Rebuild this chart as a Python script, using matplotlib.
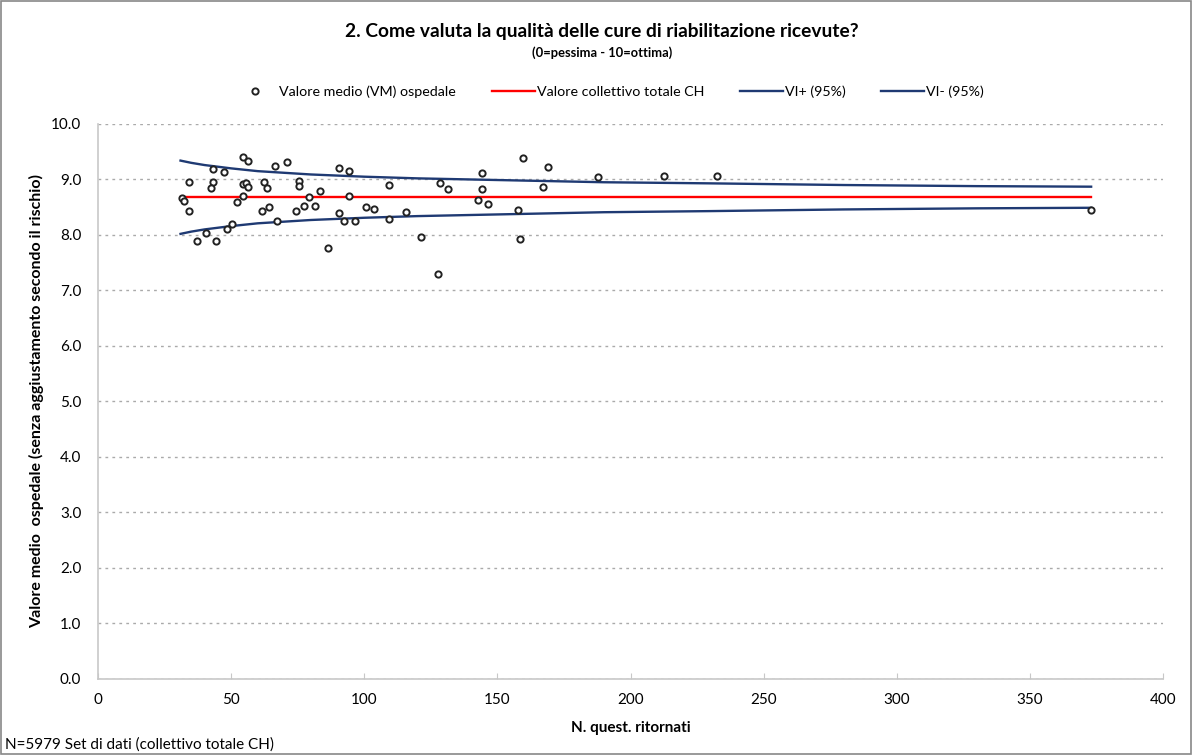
import matplotlib
matplotlib.use("Agg")
import matplotlib.pyplot as plt
from matplotlib.patches import Rectangle

plt.rcParams['font.family'] = ['Lato', 'DejaVu Sans']

# hospital means: number of returned questionnaires vs mean value
n_quest = [31.4, 32.3, 34.2, 34.2, 37.3, 40.4, 44.3, 43.3, 43.3, 42.6, 47.3, 48.3,
           50.3, 52.3, 54.5, 54.3, 56.3, 54.3, 55.5, 56.3, 61.5, 64.2, 62.5, 63.4,
           66.4, 67.1, 71.1, 75.4, 75.4, 74.4, 77.5, 79.4, 81.4, 83.4, 86.4, 90.4,
           94.4, 90.4, 92.5, 94.4, 96.5, 100.5, 103.7, 109.3, 109.3, 115.6, 121.3,
           127.6, 128.5, 131.6, 144.3, 144.3, 142.6, 146.5, 157.6, 158.6, 159.5,
           167.3, 169.1, 187.7, 212.6, 232.6, 373.0]
vm = [8.66, 8.61, 8.43, 8.96, 7.90, 8.04, 7.90, 9.18, 8.96, 8.85, 9.13, 8.11,
      8.20, 8.59, 8.70, 9.41, 9.33, 8.91, 8.94, 8.87, 8.44, 8.50, 8.96, 8.85,
      9.24, 8.25, 9.31, 8.98, 8.89, 8.43, 8.53, 8.68, 8.52, 8.79, 7.77, 9.21,
      9.16, 8.39, 8.26, 8.70, 8.25, 8.50, 8.47, 8.90, 8.28, 8.41, 7.97,
      7.30, 8.94, 8.82, 9.11, 8.82, 8.63, 8.55, 8.45, 7.93, 9.39,
      8.87, 9.22, 9.04, 9.07, 9.06, 8.45]

# overall CH value
ch_x = [31, 373]
ch_y = [8.68, 8.68]

# 95% confidence limits
ci_x = [31, 35, 40, 45, 50, 60, 70, 80, 90, 100, 120, 140, 160, 190, 230, 280, 330, 373]
ci_hi = [9.34, 9.30, 9.26, 9.23, 9.20, 9.15, 9.12, 9.09, 9.07, 9.05, 9.02, 9.00,
         8.98, 8.95, 8.93, 8.90, 8.88, 8.87]
ci_lo = [8.02, 8.06, 8.10, 8.13, 8.16, 8.21, 8.24, 8.27, 8.29, 8.31, 8.34, 8.36,
         8.38, 8.41, 8.43, 8.46, 8.48, 8.49]

navy = '#1f3a73'
fig = plt.figure(figsize=(11.92, 7.55), dpi=100)
ax = fig.add_axes([0.0822, 0.1007, 0.8935, 0.7351])

ax.plot(ch_x, ch_y, color='#ff0000', lw=1.7, label='Valore collettivo totale CH', zorder=2)
ax.plot(ci_x, ci_hi, color=navy, lw=1.7, label='VI+ (95%)', zorder=2)
ax.plot(ci_x, ci_lo, color=navy, lw=1.7, label='VI- (95%)', zorder=2)
ax.plot(n_quest, vm, ls='none', marker='o', ms=4.5, mfc='white', mec='#222222',
        mew=1.4, label='Valore medio (VM) ospedale', zorder=3)

ax.set_xlim(0, 400)
ax.set_ylim(0, 10)
ax.set_xticks(range(0, 401, 50))
ax.set_yticks([i for i in range(0, 11)])
ax.set_yticklabels([f'{i:.1f}' for i in range(0, 11)])
ax.grid(axis='y', color='#aaaaaa', ls=(0, (2, 3)), lw=1.0)
ax.set_axisbelow(True)
for s in ['top', 'right']:
    ax.spines[s].set_visible(False)
for s in ['left', 'bottom']:
    ax.spines[s].set_color('#c8c8c8')
    ax.spines[s].set_linewidth(1.2)
ax.tick_params(axis='x', direction='in', length=4, color='#c8c8c8', labelsize=11, pad=10)
ax.tick_params(axis='y', length=0, labelsize=11, pad=12)

ax.set_xlabel('N. quest. ritornati', fontsize=11, fontweight='bold', labelpad=10)
ax.set_ylabel('Valore medio  ospedale (senza aggiustamento secondo il rischio)',
              fontsize=11.5, fontweight='bold', labelpad=5)

fig.text(0.505, 0.958, '2. Come valuta la qualità delle cure di riabilitazione ricevute?',
         ha='center', va='center', fontsize=13.8, fontweight='bold')
fig.text(0.505, 0.930, '(0=pessima - 10=ottima)', ha='center', va='center',
         fontsize=9.3, fontweight='bold')

h, l = ax.get_legend_handles_labels()
order = [3, 0, 1, 2]
fig.legend([h[i] for i in order], [l[i] for i in order], loc='center',
           bbox_to_anchor=(0.511, 0.879), ncol=4, frameon=False, fontsize=10.3,
           handlelength=3.0, handletextpad=0.15, columnspacing=2.5)

fig.text(0.004, 0.004, 'N=5979 Set di dati (collettivo totale CH)', ha='left',
         va='bottom', fontsize=11)

fig.patches.append(Rectangle((0.001, 0.001), 0.998, 0.998, transform=fig.transFigure,
                             fill=False, edgecolor='#888888', lw=1.2))

fig.savefig('out.png', dpi=100)
